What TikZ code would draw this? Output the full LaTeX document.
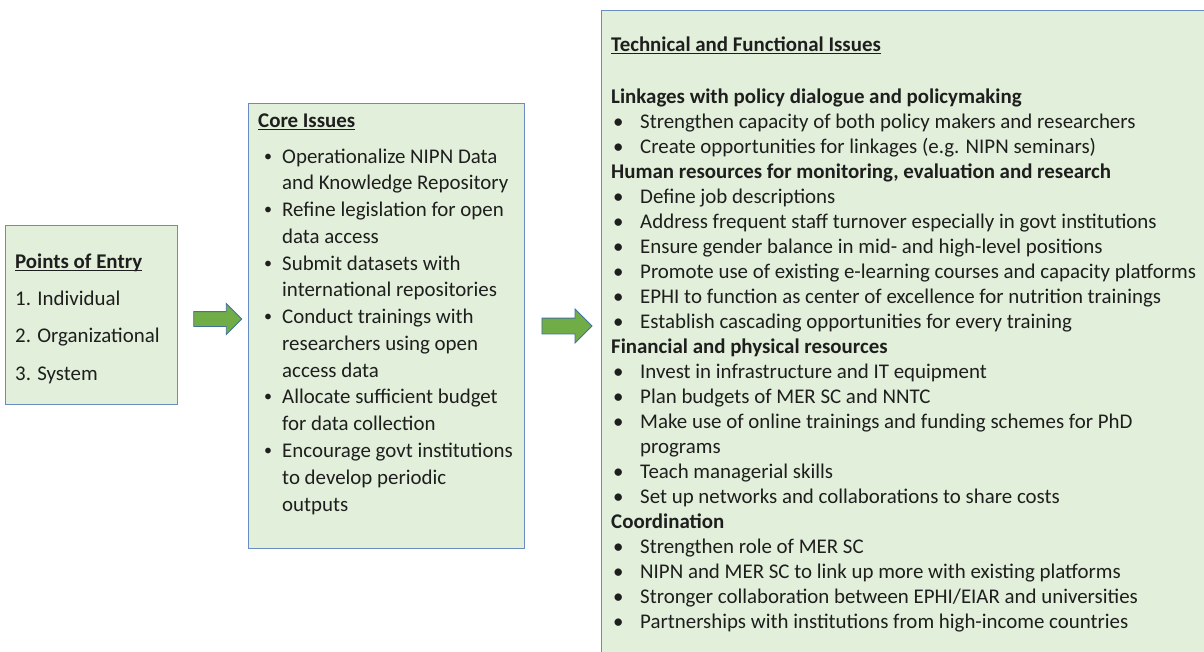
\documentclass[tikz,border=0pt]{standalone}
\usepackage{fontspec}
\setmainfont{Carlito}
\usetikzlibrary{shapes.arrows}
\definecolor{boxfill}{HTML}{E2EFDA}
\definecolor{boxline}{HTML}{6A8CC0}
\definecolor{arrfill}{HTML}{70AD47}
\definecolor{arrline}{HTML}{41719C}
\definecolor{textc}{HTML}{1E1E1E}
\newcommand\ulbox[1]{\setbox0\hbox{#1}\rlap{\rule[-2.6pt]{\wd0}{1.1pt}}\box0}
\tikzset{
  panel/.style={draw=boxline, line width=1.2pt, fill=boxfill},
  txt/.style={anchor=base west, inner sep=0pt, font=\fontsize{20.9}{25}\selectfont, text=textc},
  bigarrow/.style={single arrow, draw=arrline, line width=0.9pt, fill=arrfill, inner sep=0pt, anchor=center},
}
% right box rows
\newcommand\rhead[3]{\node[txt, font=\fontsize{20.9}{25}\selectfont\bfseries] (#1) at (611,{103+25*#2}) {#3};}
\newcommand\rbul[3]{\node[txt] (#1b) at (613,{103+25*#2}) {\textbullet};
  \node[txt] (#1) at (640,{103+25*#2}) {#3};}
\newcommand\rcont[3]{\node[txt] (#1) at (640,{103+25*#2}) {#3};}
% middle box rows
\newcommand\mbul[3]{\node[txt, font=\fontsize{16}{20}\selectfont] (#1b) at (264,{161+26.77*#2}) {\textbullet};
  \node[txt] (#1) at (282,{163+26.77*#2}) {#3};}
\newcommand\mcont[3]{\node[txt] (#1) at (282,{163+26.77*#2}) {#3};}
\begin{document}
\begin{tikzpicture}[x=1pt,y=-1pt]
\useasboundingbox (0,0) rectangle (1204,651);
\clip (0,0) rectangle (1204,651);
\fill[white] (0,0) rectangle (1204,651);
% boxes
\node[panel, anchor=north west, minimum width=172, minimum height=179, inner sep=0pt] (entry) at (5,225) {};
\node[panel, anchor=north west, minimum width=276, minimum height=445, inner sep=0pt] (core) at (248,103) {};
\node[panel, anchor=north west, minimum width=620, minimum height=660, inner sep=0pt] (tech) at (601,10) {};
% arrows
\node[bigarrow, minimum height=48, minimum width=30, single arrow head extend=8pt] (arr1) at (214,319) {\rule{0pt}{14pt}};
\node[bigarrow, minimum height=50, minimum width=33, single arrow head extend=9pt] (arr2) at (563,326) {\rule{0pt}{15pt}};
% left box text
\node[txt] (entryT) at (15,268) {\ulbox{\textbf{Points of Entry}}};
\node[txt] (e1) at (15,305) {1. Individual};
\node[txt] (e2) at (15,342) {2. Organizational};
\node[txt] (e3) at (15,380) {3. System};
% middle box text
\node[txt] (coreT) at (258,127) {\ulbox{\textbf{Core Issues}}};
\mbul{m0}{0}{Operationalize NIPN Data}
\mcont{m1}{1}{and Knowledge Repository}
\mbul{m2}{2}{Refine legislation for open}
\mcont{m3}{3}{data access}
\mbul{m4}{4}{Submit datasets with}
\mcont{m5}{5}{international repositories}
\mbul{m6}{6}{Conduct trainings with}
\mcont{m7}{7}{researchers using open}
\mcont{m8}{8}{access data}
\mbul{m9}{9}{Allocate sufficient budget}
\mcont{m10}{10}{for data collection}
\mbul{m11}{11}{Encourage govt institutions}
\mcont{m12}{12}{to develop periodic}
\mcont{m13}{13}{outputs}
% right box text
\node[txt] (techT) at (611,51) {\ulbox{\textbf{Technical and Functional Issues}}};
\rhead{r0}{0}{Linkages with policy dialogue and policymaking}
\rbul{r1}{1}{Strengthen capacity of both policy makers and researchers}
\rbul{r2}{2}{Create opportunities for linkages (e.g. NIPN seminars)}
\rhead{r3}{3}{Human resources for monitoring, evaluation and research}
\rbul{r4}{4}{Define job descriptions}
\rbul{r5}{5}{Address frequent staff turnover especially in govt institutions}
\rbul{r6}{6}{Ensure gender balance in mid- and high-level positions}
\rbul{r7}{7}{Promote use of existing e-learning courses and capacity platforms}
\rbul{r8}{8}{EPHI to function as center of excellence for nutrition trainings}
\rbul{r9}{9}{Establish cascading opportunities for every training}
\rhead{r10}{10}{Financial and physical resources}
\rbul{r11}{11}{Invest in infrastructure and IT equipment}
\rbul{r12}{12}{Plan budgets of MER SC and NNTC}
\rbul{r13}{13}{Make use of online trainings and funding schemes for PhD}
\rcont{r14}{14}{programs}
\rbul{r15}{15}{Teach managerial skills}
\rbul{r16}{16}{Set up networks and collaborations to share costs}
\rhead{r17}{17}{Coordination}
\rbul{r18}{18}{Strengthen role of MER SC}
\rbul{r19}{19}{NIPN and MER SC to link up more with existing platforms}
\rbul{r20}{20}{Stronger collaboration between EPHI/EIAR and universities}
\rbul{r21}{21}{Partnerships with institutions from high-income countries}
\end{tikzpicture}
\end{document}
